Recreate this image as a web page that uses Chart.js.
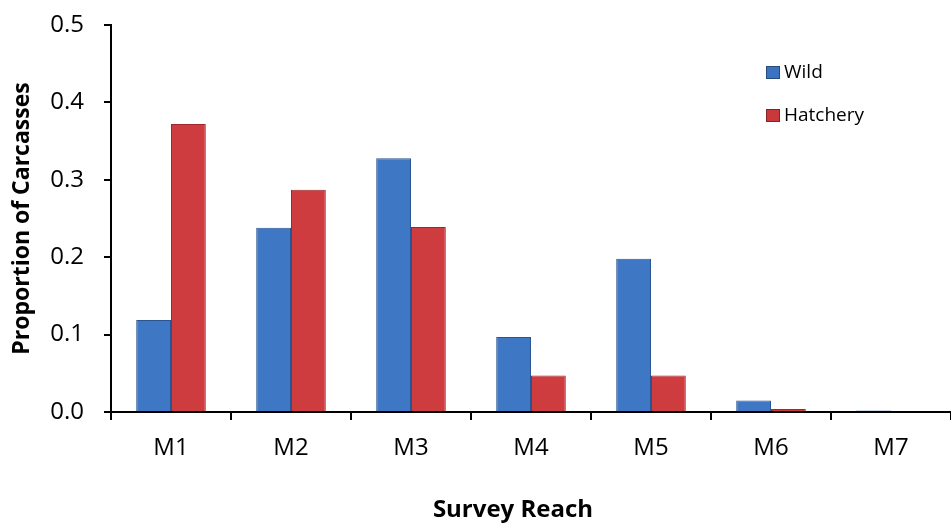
<!DOCTYPE html>
<html><head><meta charset="utf-8">
<script src="https://cdn.jsdelivr.net/npm/chart.js@4.4.1/dist/chart.umd.min.js"></script>
<style>html,body{margin:0;padding:0;background:#fff}#wrap{width:951px;height:523px}</style>
</head><body><div id="wrap"><canvas id="c"></canvas></div>
<script>
const categories = ["M1","M2","M3","M4","M5","M6","M7"];
const wildValues = [0.119, 0.238, 0.328, 0.097, 0.198, 0.015, 0.002];
const hatcheryValues = [0.372, 0.287, 0.239, 0.047, 0.047, 0.004, 0.0];
const yTicks = [0, 0.1, 0.2, 0.3, 0.4, 0.5];
const xTitle = 'Survey Reach';
const yTitle = 'Proportion of Carcasses';
const FONT = "'Open Sans', 'Liberation Sans', sans-serif";

const legendPlugin = {
  id: 'customLegend',
  afterDraw(chart) {
    const c = chart.ctx;
    const items = [
      {label: chart.data.datasets[0].label, color: '#3b73c0', y: 73},
      {label: chart.data.datasets[1].label, color: '#c9383b', y: 116}
    ];
    c.save();
    items.forEach(it => {
      c.fillStyle = it.color;
      c.fillRect(766, it.y - 7, 14, 13);
      c.strokeStyle = 'rgba(0,0,0,0.35)';
      c.lineWidth = 1;
      c.strokeRect(766.5, it.y - 6.5, 13, 12);
      c.fillStyle = '#000';
      c.font = "19px " + FONT;
      c.textBaseline = 'middle';
      c.textAlign = 'left';
      c.fillText(it.label, 784, it.y);
    });
    // x axis title (offset left of the plot centre, as in the original)
    c.font = "bold 24px " + FONT;
    c.textAlign = 'center';
    c.textBaseline = 'alphabetic';
    c.fillText(xTitle, 513, 517);
    c.restore();
  }
};

new Chart(document.getElementById('c'), {
  type: 'bar',
  data: {
    labels: categories,
    datasets: [
      {label: 'Wild', data: wildValues,
       backgroundColor: '#3e77c4',
       borderColor: '#2a5592', borderWidth: 1,
       categoryPercentage: 0.58, barPercentage: 1.0},
      {label: 'Hatchery', data: hatcheryValues,
       backgroundColor: '#cf3c3f',
       borderColor: '#9c2a2c', borderWidth: 1,
       categoryPercentage: 0.58, barPercentage: 1.0}
    ]
  },
  options: {
    responsive: true,
    maintainAspectRatio: false,
    animation: false,
    layout: {padding: {top: 25, right: 0, bottom: 0, left: 0}},
    plugins: {legend: {display: false}, tooltip: {enabled: false}},
    scales: {
      x: {
        grid: {display: true, drawOnChartArea: false, drawTicks: true, tickLength: 8, color: '#000', lineWidth: 2, offset: true},
        border: {display: true, color: '#000', width: 2},
        ticks: {color: '#000', font: {family: FONT, size: 24}, padding: 14},
        title: {display: false},
        afterFit(s) { s.height = 111; s.paddingLeft = 0; s.paddingRight = 0; }
      },
      y: {
        min: 0, max: 0.5,
        afterBuildTicks(s) { s.ticks = yTicks.map(v => ({value: v})); },
        grid: {display: true, drawOnChartArea: false, drawTicks: true, tickLength: 7, color: '#000', lineWidth: 2},
        border: {display: true, color: '#000', width: 2},
        ticks: {color: '#000', font: {family: FONT, size: 24}, padding: 20,
                callback: v => Number(v).toFixed(1)},
        title: {display: true, text: yTitle, color: '#000', font: {family: FONT, size: 23, weight: 'bold'}, padding: {top: 9, bottom: 0}},
        afterFit(s) { s.width = 111; s.paddingTop = 0; s.paddingBottom = 0; }
      }
    }
  },
  plugins: [legendPlugin]
});
</script></body></html>
